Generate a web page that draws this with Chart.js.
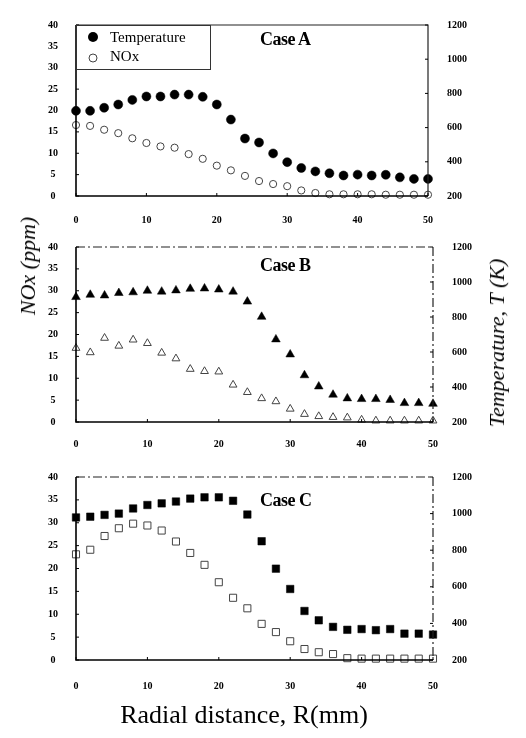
<!DOCTYPE html>
<html>
<head>
<meta charset="utf-8">
<script src="https://cdn.jsdelivr.net/npm/chart.js@4.4.1/dist/chart.umd.min.js"></script>
<style>
  body { margin: 0; background: #fff; }
  #page { position: relative; width: 526px; height: 738px; overflow: hidden; font-family: 'Liberation Serif', serif; }
  .panel { position: absolute; left: 0; width: 526px; }
  .case { position: absolute; font: bold 18px 'Liberation Serif', serif; color: #000; letter-spacing: -0.5px; }
  .vtitle { position: absolute; font: italic 22px 'Liberation Serif', serif; color: #000; white-space: nowrap; transform: translate(-50%, -50%) rotate(-90deg); }
  #xtitle { position: absolute; left: 0; width: 488px; top: 700px; text-align: center; font: 26px 'Liberation Serif', serif; color: #000; }
</style>
</head>
<body>
<div id="page">
  <div class="panel" style="top:0;height:232px"><canvas id="chartA"></canvas></div>
  <div class="panel" style="top:222px;height:230px"><canvas id="chartB"></canvas></div>
  <div class="panel" style="top:452px;height:240px"><canvas id="chartC"></canvas></div>
  <div class="case" style="left:260px;top:29px">Case A</div>
  <div class="case" style="left:260px;top:255px">Case B</div>
  <div class="case" style="left:260px;top:490px">Case C</div>
  <div class="vtitle" style="left:28px;top:266px">NOx (ppm)</div>
  <div class="vtitle" style="left:497px;top:343px">Temperature, T (K)</div>
  <div id="xtitle">Radial distance, R(mm)</div>
</div>
<script>
// radial positions (mm)
const radial = [0, 2, 4, 6, 8, 10, 12, 14, 16, 18, 20, 22, 24, 26, 28, 30, 32, 34, 36, 38, 40, 42, 44, 46, 48, 50];

// Case A
const tempA = [698, 698, 716, 735, 762, 782, 782, 793, 793, 780, 735, 647, 536, 513, 449, 398, 364, 344, 333, 320, 325, 320, 324, 309, 300, 300];
const noxA = [16.6, 16.4, 15.5, 14.7, 13.5, 12.4, 11.6, 11.3, 9.8, 8.7, 7.1, 6.0, 4.7, 3.5, 2.8, 2.3, 1.3, 0.7, 0.4, 0.4, 0.4, 0.4, 0.3, 0.3, 0.3, 0.3];

// Case B
const tempB = [914, 927, 923, 937, 941, 950, 945, 952, 961, 963, 957, 945, 888, 801, 672, 586, 467, 403, 356, 335, 331, 331, 326, 308, 308, 304];
const noxB = [16.9, 15.9, 19.2, 17.4, 18.8, 18.0, 15.8, 14.5, 12.1, 11.6, 11.5, 8.5, 6.8, 5.4, 4.7, 3.0, 1.8, 1.3, 1.1, 1.0, 0.5, 0.3, 0.3, 0.3, 0.3, 0.3];

// Case C
const tempC = [979, 983, 993, 1000, 1028, 1047, 1056, 1066, 1082, 1089, 1089, 1070, 995, 849, 699, 588, 468, 417, 381, 365, 369, 363, 369, 344, 344, 339];
const noxC = [23.1, 24.1, 27.1, 28.8, 29.8, 29.4, 28.3, 25.9, 23.4, 20.8, 17.0, 13.6, 11.3, 7.9, 6.1, 4.1, 2.4, 1.7, 1.3, 0.4, 0.3, 0.3, 0.3, 0.3, 0.3, 0.3];

// axis ticks
const xTicks = [0, 10, 20, 30, 40, 50];
const noxTicks = [0, 5, 10, 15, 20, 25, 30, 35, 40];
const tempTicks = [200, 400, 600, 800, 1000, 1200];

const tickFont = { family: 'Liberation Serif', size: 10, weight: 'bold' };
const plain = v => String(v);

// frame around plot area, with short inward tick marks
const framePlugin = {
  id: 'frame',
  afterDatasetsDraw(chart, args, opts) {
    const { ctx, chartArea: a, scales } = chart;
    ctx.save();
    ctx.strokeStyle = '#222';
    ctx.lineWidth = 1.2;
    ctx.setLineDash(opts.dashed ? [9, 3, 2, 3] : []);
    ctx.beginPath();
    ctx.moveTo(a.left, a.top);
    ctx.lineTo(a.right, a.top);
    ctx.lineTo(a.right, a.bottom);
    ctx.stroke();
    ctx.setLineDash([]);
    ctx.lineWidth = 1.6;
    ctx.strokeStyle = '#000';
    ctx.beginPath();
    ctx.moveTo(a.left, a.top);
    ctx.lineTo(a.left, a.bottom);
    ctx.lineTo(a.right, a.bottom);
    ctx.stroke();
    ctx.lineWidth = 1;
    ctx.beginPath();
    noxTicks.forEach(v => { const y = scales.y.getPixelForValue(v); ctx.moveTo(a.left, y); ctx.lineTo(a.left + 3, y); });
    tempTicks.forEach(v => { const y = scales.y1.getPixelForValue(v); ctx.moveTo(a.right, y); ctx.lineTo(a.right - 3, y); });
    xTicks.forEach(v => { const x = scales.x.getPixelForValue(v); ctx.moveTo(x, a.bottom); ctx.lineTo(x, a.bottom - 3); });
    ctx.stroke();
    ctx.restore();
  }
};

// legend box for case A
const legendPlugin = {
  id: 'boxLegend',
  afterDraw(chart, args, opts) {
    if (!opts.show) return;
    const { ctx, chartArea: a } = chart;
    ctx.save();
    ctx.fillStyle = '#fff';
    ctx.fillRect(a.left, a.top, 134, 44);
    ctx.strokeStyle = '#333';
    ctx.lineWidth = 1;
    ctx.strokeRect(a.left + 0.5, a.top + 0.5, 134, 44);
    ctx.fillStyle = '#000';
    ctx.beginPath();
    ctx.arc(a.left + 17, a.top + 12, 5, 0, Math.PI * 2);
    ctx.fill();
    ctx.strokeStyle = '#444';
    ctx.beginPath();
    ctx.arc(a.left + 17, a.top + 33, 4, 0, Math.PI * 2);
    ctx.stroke();
    ctx.font = '15px "Liberation Serif"';
    ctx.textBaseline = 'middle';
    ctx.fillText('Temperature', a.left + 34, a.top + 13);
    ctx.fillText('NOx', a.left + 34, a.top + 32);
    ctx.restore();
  }
};

function makePanel(id, temps, nox, g) {
  return new Chart(document.getElementById(id), {
    type: 'scatter',
    data: {
      datasets: [
        {
          label: 'Temperature',
          data: radial.map((x, i) => ({ x, y: temps[i] })),
          yAxisID: 'y1',
          pointStyle: g.shape,
          pointRadius: g.fillR,
          backgroundColor: '#000',
          borderColor: '#000',
          borderWidth: 0.5,
          clip: false
        },
        {
          label: 'NOx',
          data: radial.map((x, i) => ({ x, y: nox[i] })),
          yAxisID: 'y',
          pointStyle: g.shape,
          pointRadius: g.openR,
          backgroundColor: 'rgba(255,255,255,0)',
          borderColor: '#444',
          borderWidth: 1,
          clip: false
        }
      ]
    },
    options: {
      responsive: true,
      maintainAspectRatio: false,
      animation: false,
      events: [],
      layout: { padding: { top: g.top, left: 0, right: 0, bottom: 0 } },
      plugins: {
        legend: { display: false },
        tooltip: { enabled: false },
        frame: { dashed: g.dashed },
        boxLegend: { show: g.legend }
      },
      scales: {
        x: {
          type: 'linear', min: 0, max: 50,
          afterBuildTicks: s => { s.ticks = xTicks.map(v => ({ value: v })); },
          afterFit: s => { s.height = g.xh; },
          grid: { display: false, drawTicks: false },
          border: { display: false },
          ticks: { font: tickFont, color: '#000', padding: g.xpad, maxRotation: 0, callback: plain }
        },
        y: {
          position: 'left', min: 0, max: 40,
          afterBuildTicks: s => { s.ticks = noxTicks.map(v => ({ value: v })); },
          afterFit: s => { s.width = 76; },
          grid: { display: false, drawTicks: false },
          border: { display: false },
          ticks: { font: tickFont, color: '#000', padding: 18, crossAlign: 'center', callback: plain }
        },
        y1: {
          position: 'right', min: 200, max: 1200,
          afterBuildTicks: s => { s.ticks = tempTicks.map(v => ({ value: v })); },
          afterFit: s => { s.width = g.rw; },
          grid: { display: false, drawTicks: false },
          border: { display: false },
          ticks: { font: tickFont, color: '#000', padding: 19, callback: plain }
        }
      }
    },
    plugins: [framePlugin, legendPlugin]
  });
}

makePanel('chartA', tempA, noxA, { shape: 'circle', fillR: 4.5, openR: 3.6, top: 13, xh: 36, xpad: 18, rw: 98, dashed: false, legend: true });
makePanel('chartB', tempB, noxB, { shape: 'triangle', fillR: 5, openR: 4.5, top: 14, xh: 30, xpad: 16, rw: 93, dashed: true, legend: false });
makePanel('chartC', tempC, noxC, { shape: 'rect', fillR: 5.3, openR: 5, top: 16, xh: 32, xpad: 20, rw: 93, dashed: true, legend: false });
</script>
</body>
</html>
